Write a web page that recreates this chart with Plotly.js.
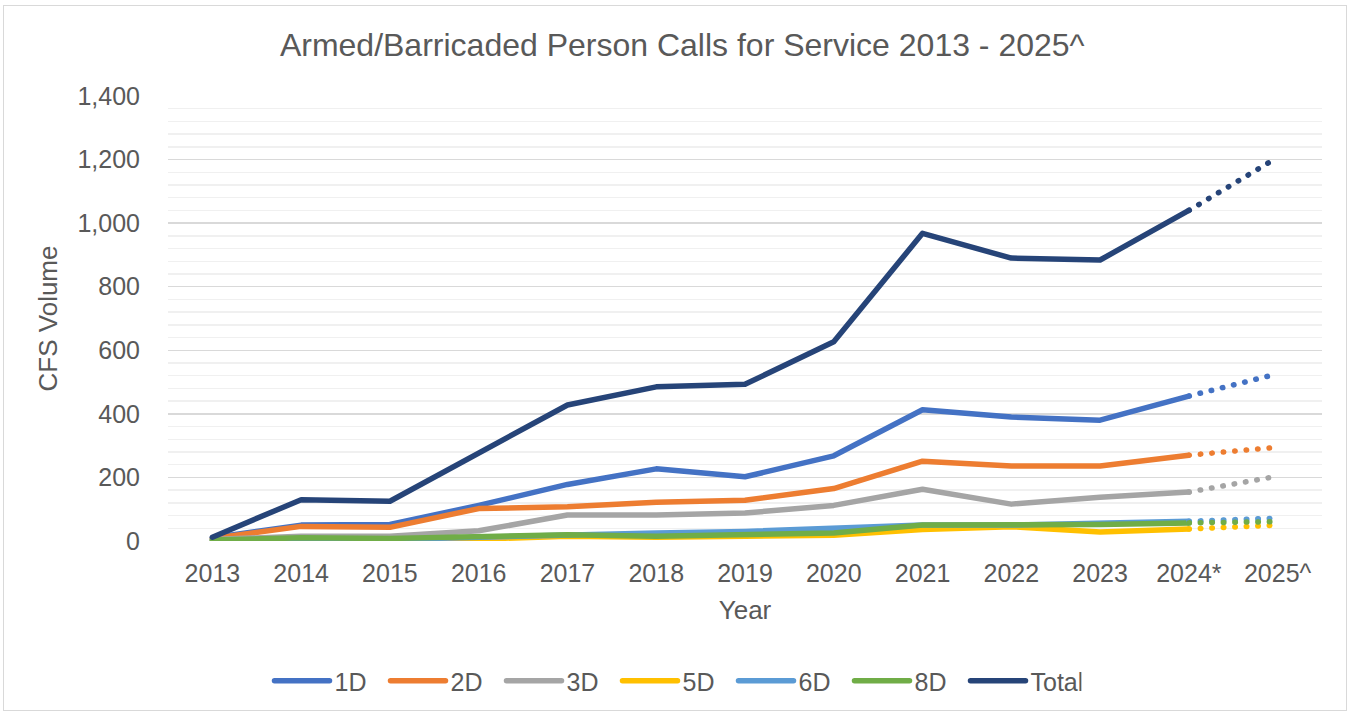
<!DOCTYPE html>
<html>
<head>
<meta charset="utf-8">
<script src="https://cdn.plot.ly/plotly-3.0.1.min.js"></script>
<style>
  html, body { margin: 0; padding: 0; background: #ffffff; }
  #frame { position: absolute; left: 3px; top: 5px; width: 1344px; height: 706px; border: 1px solid #d9d9d9; box-sizing: border-box; }
  #chart { position: absolute; left: 0; top: 0; width: 1351px; height: 717px; }
  .scatterlayer .js-line, .legendlines path { stroke-linecap: round; stroke-linejoin: round; }
</style>
</head>
<body>
<div id="frame"></div>
<div id="chart"></div>
<script>
// ---- data ----
const years = ["2013","2014","2015","2016","2017","2018","2019","2020","2021","2022","2023","2024*","2025^"];
const series_names = ["1D","2D","3D","5D","6D","8D","Total"];
const v1D    = [10, 50, 52, 112, 178, 227, 202, 268, 413, 390, 380, 456, 526];
const v2D    = [8, 46, 43, 102, 108, 122, 128, 165, 251, 236, 236, 270, 295];
const v3D    = [5, 15, 15, 32, 82, 82, 88, 112, 163, 116, 138, 154, 204];
const v5D    = [0, 3, 5, 6, 15, 12, 15, 18, 36, 45, 28, 38, 50];
const v6D    = [2, 8, 5, 12, 22, 25, 30, 38, 50, 50, 55, 62, 72];
const v8D    = [3, 10, 8, 15, 20, 15, 20, 25, 50, 50, 52, 57, 61];
const vTotal = [12, 130, 125, 278, 428, 485, 493, 627, 968, 890, 884, 1040, 1207];
const colors = ["#4472c4","#ed7d31","#a5a5a5","#ffc000","#5b9bd5","#70ad47","#264478"];

const allVals = [v1D, v2D, v3D, v5D, v6D, v8D, vTotal];
const splitIdx = years.length - 2; // last actual point index (2024*)

const traces = [];
allVals.forEach((vals, i) => {
  traces.push({
    type: "scatter", mode: "lines", name: series_names[i],
    x: years.slice(0, splitIdx + 1), y: vals.slice(0, splitIdx + 1),
    line: { color: colors[i], width: 5.5 }, legendgroup: series_names[i],
    hoverinfo: "x+y+name"
  });
});
allVals.forEach((vals, i) => {
  traces.push({
    type: "scatter", mode: "lines", name: series_names[i],
    x: years.slice(splitIdx), y: vals.slice(splitIdx),
    line: { color: colors[i], width: 5.5, dash: "0.5px,11px" }, legendgroup: series_names[i],
    showlegend: false, hoverinfo: "x+y+name"
  });
});

const font = { family: "Liberation Sans, Arial, sans-serif", color: "#595959" };

const layout = {
  width: 1351, height: 717,
  paper_bgcolor: "rgba(0,0,0,0)", plot_bgcolor: "rgba(0,0,0,0)",
  margin: { l: 168, r: 29, t: 96, b: 176 },
  font: Object.assign({ size: 25 }, font),
  title: { text: "Armed/Barricaded Person Calls for Service 2013 - 2025^",
           font: Object.assign({}, font, { size: 32 }),
           x: 0.505, xref: "container", xanchor: "center", y: 0.937, yref: "container", yanchor: "middle" },
  xaxis: {
    type: "category", range: [-0.5, 12.5], showgrid: false, zeroline: false, showline: false,
    ticks: "outside", ticklen: 10, tickcolor: "rgba(0,0,0,0)",
    tickfont: Object.assign({}, font, { size: 25 }),
    title: { text: "Year", font: Object.assign({}, font, { size: 26 }), standoff: 14 }
  },
  yaxis: {
    range: [0, 1400], dtick: 200, tick0: 0, tickformat: ",d",
    showgrid: true, gridcolor: "#d9d9d9", gridwidth: 1.3, zeroline: false, showline: false,
    ticks: "outside", ticklen: 22, tickcolor: "rgba(0,0,0,0)",
    tickfont: Object.assign({}, font, { size: 25 }),
    minor: { dtick: 40, tick0: 0, showgrid: true, gridcolor: "#f0f0f0", gridwidth: 1.3, ticks: "" },
    title: { text: "CFS Volume", font: Object.assign({}, font, { size: 26 }), standoff: 12 }
  },
  showlegend: true,
  legend: {
    orientation: "h", x: 0.5, xanchor: "center", xref: "container",
    y: 1 - 681/717, yref: "container", yanchor: "middle",
    font: Object.assign({}, font, { size: 25 }),
    itemwidth: 55, entrywidth: 46, entrywidthmode: "pixels",
    traceorder: "normal", bgcolor: "rgba(0,0,0,0)"
  },
  hovermode: false
};

Plotly.newPlot("chart", traces, layout, { displayModeBar: false, staticPlot: true });
</script>
</body>
</html>
